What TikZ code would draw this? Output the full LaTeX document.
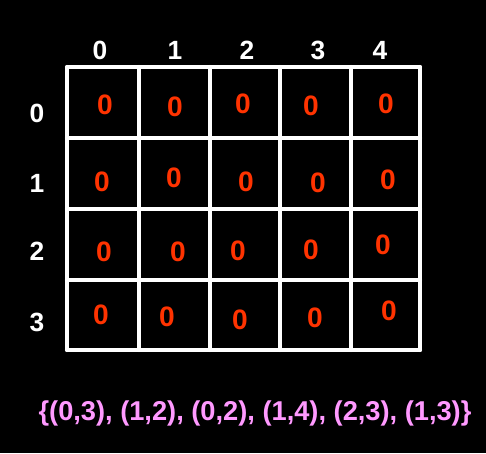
\documentclass[tikz,border=0pt]{standalone}
\usepackage{fontspec}
\setmainfont{Liberation Sans}
\usepackage{tikz}
\usetikzlibrary{positioning}
\definecolor{inkred}{RGB}{255,51,0}
\definecolor{setpink}{RGB}{255,153,255}
\tikzset{gridline/.style={draw=white,line width=2.3pt,line cap=round},
  idx/.style={text=white,font=\bfseries\fontsize{15}{15}\selectfont,inner sep=1pt},
  cellval/.style={text=inkred,font=\bfseries\fontsize{16}{16}\selectfont,inner sep=1pt},
  pairset/.style={text=setpink,font=\bfseries\fontsize{15.5}{17}\selectfont}}

\begin{document}
\begin{tikzpicture}[x=0.02cm,y=-0.02cm]
\fill[black] (0,0) rectangle (486,453);
\useasboundingbox (0,0) rectangle (486,453);
% grid lines
\foreach \x in {67,139,210,280,351,420}{\draw[gridline] (\x,67) -- (\x,350);}
\foreach \y in {67,138,209,280,350}{\draw[gridline] (67,\y) -- (420,\y);}
% column and row indices
\foreach \c/\x in {0/100,1/175,2/247,3/318,4/380}{\node[idx] (col\c) at (\x,50) {\c};}
\foreach \r/\y in {0/113,1/183,2/251,3/322}{\node[idx] (row\r) at (37,\y) {\r};}
% cell values
\foreach \r/\c/\x/\y in {0/0/105/105,0/1/175/107,0/2/243/104,0/3/311/106,0/4/386/104,
  1/0/102/182,1/1/174/178,1/2/246/182,1/3/318/183,1/4/388/180,
  2/0/104/252,2/1/178/252,2/2/238/251,2/3/311/250,2/4/383/245,
  3/0/101/315,3/1/167/317,3/2/240/320,3/3/315/318,3/4/389/311}
  {\node[cellval] (z\r\c) at (\x,\y) {0};}
\node[pairset] (pairs) at (255,413) {\{(0,3), (1,2), (0,2), (1,4), (2,3), (1,3)\}};
\end{tikzpicture}
\end{document}
